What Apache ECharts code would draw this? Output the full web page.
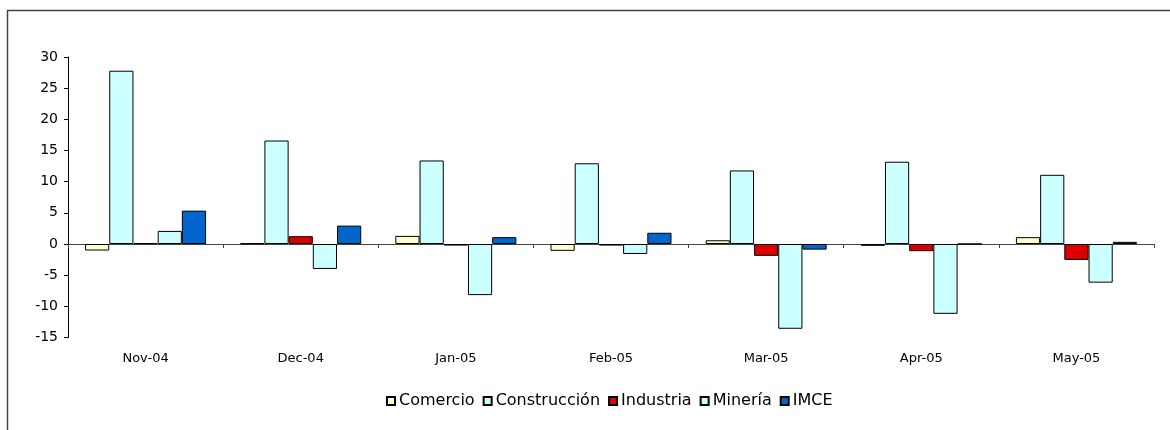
<!DOCTYPE html>
<html>
<head>
<meta charset="utf-8">
<script src="https://cdn.jsdelivr.net/npm/echarts@6/dist/echarts.min.js"></script>
<style>
  html, body { margin: 0; padding: 0; background: #fff; }
  #chart { width: 1170px; height: 430px; }
</style>
</head>
<body>
<div id="chart"></div>
<script>
var categories = ["Nov-04", "Dec-04", "Jan-05", "Feb-05", "Mar-05", "Apr-05", "May-05"];
var comercio = [-1.05, 0.1, 1.3, -1.1, 0.6, -0.3, 1.1];
var construccion = [27.8, 16.6, 13.4, 12.95, 11.8, 13.2, 11.1];
var industria = [0.15, 1.25, -0.25, -0.25, -1.9, -1.15, -2.55];
var mineria = [2.1, -4.0, -8.2, -1.6, -13.6, -11.2, -6.2];
var imce = [5.35, 2.95, 1.1, 1.8, -0.9, 0, 0.35];
var yTicks = [-15, -10, -5, 0, 5, 10, 15, 20, 25, 30];

var FONT = "DejaVu Sans";

function barSeries(name, data, color) {
  return {
    name: name,
    type: "bar",
    xAxisIndex: 0,
    data: data,
    barGap: "0%",
    barCategoryGap: "22%",
    itemStyle: { color: color, borderColor: "#000", borderWidth: 1 },
  };
}

var myChart = echarts.init(document.getElementById("chart"), null, { renderer: "canvas" });

var option = {
  backgroundColor: "#fff",
  animation: false,
  graphic: [
    {
      type: "rect",
      shape: { x: 7.5, y: 10.5, width: 1200, height: 500 },
      style: { fill: "none", stroke: "#444", lineWidth: 1.5 },
      silent: true,
    },
  ],
  grid: { left: 68, right: 16, top: 57, bottom: 92.5 },
  legend: {
    left: 381,
    top: 388,
    itemWidth: 8,
    itemHeight: 8,
    itemGap: 8,
    icon: "rect",
    textStyle: { fontFamily: FONT, fontSize: 16, color: "#000", padding: [0, 0, 0, -1] },
    data: ["Comercio", "Construcción", "Industria", "Minería", "IMCE"],
  },
  xAxis: [
    {
      type: "category",
      data: categories,
      position: "bottom",
      axisLine: { onZero: true, lineStyle: { color: "#444", width: 1 } },
      axisTick: { show: true, length: 4, lineStyle: { color: "#444" } },
      axisLabel: { show: false },
      splitLine: { show: false },
    },
    {
      type: "category",
      data: categories,
      position: "bottom",
      axisLine: { show: false, onZero: false },
      axisTick: { show: false },
      axisLabel: { margin: 15, fontFamily: FONT, fontSize: 13, color: "#000" },
      splitLine: { show: false },
    },
  ],
  yAxis: {
    type: "value",
    min: yTicks[0],
    max: yTicks[yTicks.length - 1],
    interval: 5,
    axisLine: { show: true, lineStyle: { color: "#000", width: 1 } },
    axisTick: { show: true, length: 4, lineStyle: { color: "#000" } },
    axisLabel: { margin: 10, fontFamily: FONT, fontSize: 14, color: "#000" },
    splitLine: { show: false },
  },
  series: [
    barSeries("Comercio", comercio, "#FFFFCC"),
    barSeries("Construcción", construccion, "#CCFFFF"),
    barSeries("Industria", industria, "#DD0000"),
    barSeries("Minería", mineria, "#CCFFFF"),
    barSeries("IMCE", imce, "#0066CC"),
  ],
};

myChart.setOption(option);
</script>
</body>
</html>
